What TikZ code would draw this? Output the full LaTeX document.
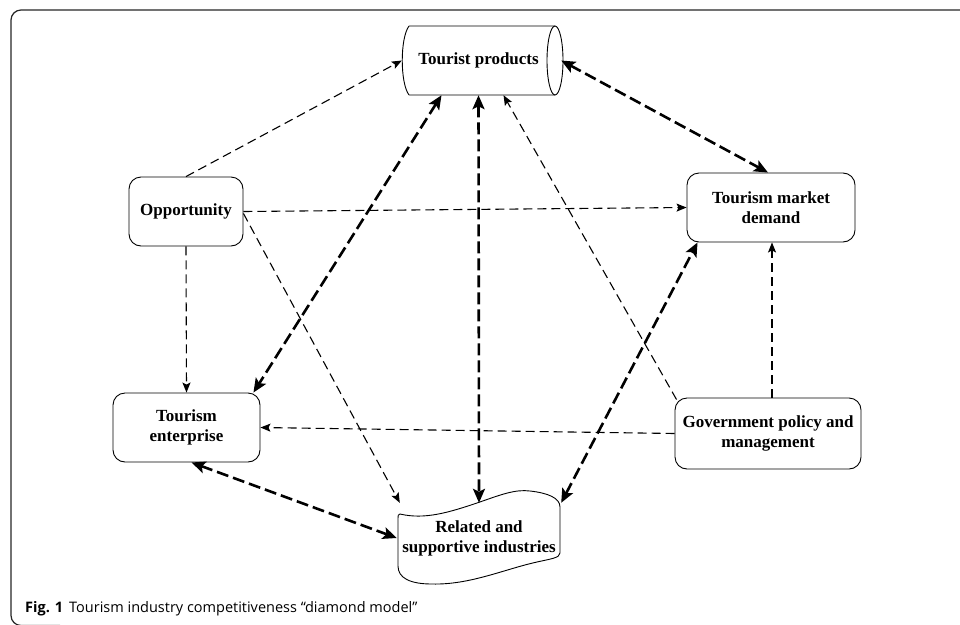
\documentclass[tikz,border=0pt]{standalone}
\usepackage{fontspec}
\setmainfont{Liberation Serif}
\newfontfamily\capfont{Open Sans}
\usetikzlibrary{arrows.meta}

\tikzset{
  box/.style={draw, rounded corners=12pt, line width=0.9pt, align=center,
    inner sep=0pt, font=\fontsize{17}{20}\selectfont\bfseries},
  txt/.style={inner sep=0pt, align=center, font=\fontsize{17}{20}\selectfont\bfseries},
  outline/.style={line width=0.9pt},
  weak/.style={line width=1.1pt, dash pattern=on 9pt off 5pt,
    -{Stealth[length=10pt,width=8pt,inset=2pt]}},
  strong/.style={line width=2.6pt, dash pattern=on 12pt off 5pt,
    {Stealth[length=14pt,width=12pt,inset=3pt]}-{Stealth[length=14pt,width=12pt,inset=3pt]}},
}

\begin{document}
\begin{tikzpicture}[x=1pt,y=-1pt]
\useasboundingbox (0,0) rectangle (960,624);

% frame
\draw[line width=1.2pt, color=black!85, rounded corners=10pt]
  (970,10) -- (11,10) -- (11,625.5) -- (60,625.5);

% nodes
\node[txt, minimum width=153pt, minimum height=69pt] (tp) at (478.5,60.5) {Tourist products};
\node[box, minimum width=114pt, minimum height=69pt] (opp) at (186,211.5) {Opportunity};
\node[box, minimum width=147pt, minimum height=69pt] (ent) at (186.5,427.5) {Tourism\\enterprise};
\node[box, minimum width=168pt, minimum height=69pt] (mkt) at (771,207.5) {Tourism market\\demand};
\node[box, minimum width=186pt, minimum height=71pt] (gov) at (768,433.5) {Government policy and\\management};
\node[txt, minimum width=164pt, minimum height=70pt] (rel) at (479,538) {Related and\\supportive industries};

% cylinder outline of the products node
\draw[outline] (409,26) -- (555,26) (409,95) -- (555,95)
  (409,26) .. controls (400,38) and (400,83) .. (409,95);
\draw[outline] (555,60.5) ellipse [x radius=8, y radius=34.5];

% wavy outline of the industries node
\draw[outline] (400,514) .. controls (425,520) and (450,512) .. (477,503)
  .. controls (500,495) and (515,489) .. (530,491)
  .. controls (548,493) and (560,498) .. (560,507) -- (560,553)
  .. controls (560,558) and (550,559) .. (537,562)
  .. controls (505,569) and (470,585) .. (432,584)
  .. controls (410,584) and (398,578) .. (398,566) -- (398,518)
  .. controls (398,515) .. (400,514) -- cycle;

% single-headed links
\draw[weak] (opp.north) -- (tp.west);
\draw[weak] (opp.east) -- (mkt.west);
\draw[weak] ([yshift=-2pt]opp.east) -- ([xshift=3pt]rel.north west);
\draw[weak] (opp.south) -- (ent.north);
\draw[weak] (gov.west) -- (ent.east);
\draw[weak] ([xshift=4pt]gov.north) -- ([xshift=1pt]mkt.south);
\draw[weak] ([shift={(2pt,-2pt)}]gov.north west) -- ([xshift=25pt]tp.south);

% double-headed links
\draw[strong] ([xshift=6pt]tp.east) -- ([xshift=-3pt]mkt.north);
\draw[strong] ([xshift=-37pt]tp.south) -- ([xshift=-7pt]ent.north east);
\draw[strong] (tp.south) -- (rel.north);
\draw[strong] (rel.north east) -- ([xshift=11pt]mkt.south west);
\draw[strong] ([xshift=5pt]ent.south) -- (rel.west);

% caption
\node[anchor=base west, inner sep=0pt, font=\capfont\fontsize{14.5}{17}\selectfont] (cap) at (25,612)
  {\textbf{Fig. 1}\hspace{6pt}Tourism industry competitiveness “diamond model”};
\end{tikzpicture}
\end{document}
